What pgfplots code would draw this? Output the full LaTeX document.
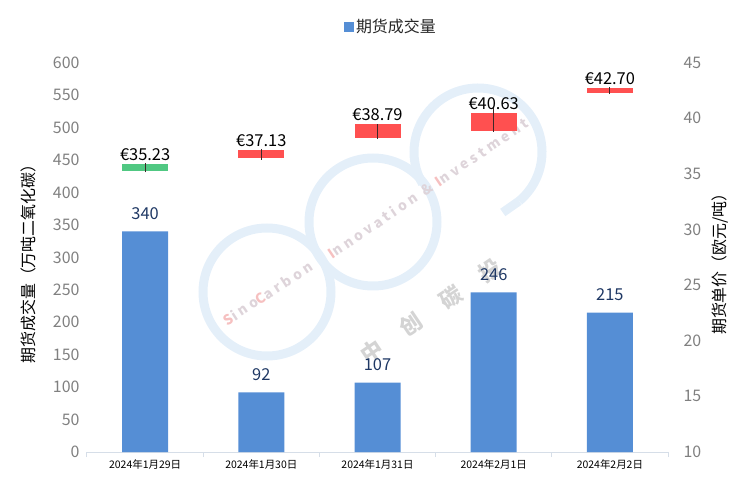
\documentclass[border=0pt]{standalone}
\usepackage{pgfplots}
\pgfplotsset{compat=1.18}
\usepackage{fontspec}
\setmainfont{Noto Sans CJK SC}
\newfontfamily\wmfont[LetterSpace=25]{Noto Sans CJK SC}
\newfontfamily\wmcjk[LetterSpace=118]{Noto Sans CJK SC}
\definecolor{barblue}{RGB}{85,142,213}
\definecolor{candlered}{RGB}{255,80,80}
\definecolor{candlegreen}{RGB}{80,200,130}
\definecolor{ticklab}{RGB}{128,128,128}
\definecolor{axisgray}{RGB}{214,222,232}
\definecolor{labelblue}{RGB}{31,56,100}
\definecolor{wick}{RGB}{60,40,40}
\definecolor{wmring}{RGB}{228,239,249}
\definecolor{wmtext}{RGB}{222,212,218}
\definecolor{wmred}{RGB}{246,192,192}
\definecolor{wmcjkc}{RGB}{212,212,212}
\begin{document}
\begin{tikzpicture}
\useasboundingbox (-87bp,-31bp) rectangle (657bp,452bp);
% watermark (decorative)
\draw[wmring, line width=9bp] (180bp,160bp) circle (64bp);
\draw[wmring, line width=9bp] (286bp,230bp) circle (64bp);
\draw[wmring, line width=9bp] ([shift={(-50:64bp)}]391bp,300bp) arc (-50:210:64bp);
\draw[wmring, line width=9bp] ([shift={(-50:64bp)}]391bp,300bp) -- ++(-145:20bp);
\node[rotate=33, font=\fontsize{14}{16}\selectfont\wmfont\bfseries, text=wmtext] at (181bp,159bp)
  {\textcolor{wmred}{S}ino\textcolor{wmred}{C}arbon};
\node[rotate=34, font=\fontsize{14}{16}\selectfont\wmfont\bfseries, text=wmtext] at (341bp,264bp)
  {\textcolor{wmred}{I}nnovation \& \textcolor{wmred}{I}nvestment};
\node[rotate=34, font=\fontsize{22}{24}\selectfont\wmcjk\bfseries, text=wmcjkc] at (344bp,141bp)
  {中创碳投};
\begin{axis}[
  at={(0,0)}, anchor=south west,
  width=581bp, height=389.3bp, scale only axis,
  xmin=-0.5, xmax=4.5, ymin=0, ymax=600,
  ytick={0,50,...,600},
  xtick={0,1,2,3,4},
  xticklabels={2024年1月29日,2024年1月30日,2024年1月31日,2024年2月1日,2024年2月2日},
  minor xtick={-0.5,0.5,1.5,2.5,3.5,4.5},
  axis x line*=bottom, axis y line*=left,
  y axis line style={draw=none},
  x axis line style={axisgray, line width=1bp},
  major tick length=0, minor tick length=5bp, tick align=outside,
  minor tick style={axisgray, line width=1bp},
  /pgf/number format/assume math mode=true,
  yticklabel style={font=\fontsize{16}{18}\selectfont, text=ticklab, xshift=-4bp},
  xticklabel style={font=\fontsize{10.5}{12}\selectfont, text=black, yshift=-4bp},
  ylabel={期货成交量（万吨二氧化碳）},
  ylabel style={at={(axis description cs:-0.1016,0.493)}, anchor=center, font=\fontsize{16}{18}\selectfont, text=black},
  legend style={at={(0.523,1.0925)}, anchor=center, draw=none, fill=none, font=\fontsize{16}{18}\selectfont, text=black!85},
  clip=false,
]
\addplot[ybar, bar width=46bp, fill=barblue, draw=none,
  nodes near coords,
  nodes near coords style={text=labelblue, font=\fontsize{16.5}{18}\selectfont, yshift=8.5bp},
  legend image code/.code={\fill[barblue] (0bp,-5bp) rectangle (10bp,5bp);}]
  coordinates {(0,340) (1,92) (2,107) (3,246) (4,215)};
\addlegendentry{期货成交量}
\end{axis}
\begin{axis}[
  at={(0,0)}, anchor=south west,
  width=581bp, height=389.3bp, scale only axis,
  xmin=-0.5, xmax=4.5, ymin=10, ymax=45,
  ytick={10,15,...,45},
  axis x line=none, axis y line*=right,
  y axis line style={draw=none},
  major tick length=0,
  /pgf/number format/assume math mode=true,
  yticklabel style={font=\fontsize{16}{18}\selectfont, text=ticklab, anchor=west, xshift=12bp},
  ylabel={期货单价（欧元/吨）},
  ylabel style={at={(axis description cs:1.0895,0.493)}, anchor=center, font=\fontsize{16}{18}\selectfont, text=black},
  clip=false,
]
\addplot[candlegreen, line width=46bp, unbounded coords=jump]
  coordinates {(0,35.30) (0,35.90)};
\addplot[candlered, line width=46bp, unbounded coords=jump]
  coordinates {(1,36.41) (1,37.16) (1.5,nan) (2,38.26) (2,39.50) (2.5,nan) (3,38.89) (3,40.46) (3.5,nan) (4,42.31) (4,42.71)};
\addplot[wick, line width=0.9bp, unbounded coords=jump]
  coordinates {(0,35.15) (0,35.96) (0.5,nan) (1,36.26) (1,37.22) (1.5,nan) (2,38.15) (2,39.50) (2.5,nan) (3,38.80) (3,41.05) (3.5,nan) (4,42.17) (4,42.85)};
\addplot[draw=none, nodes near coords, point meta=explicit symbolic,
  nodes near coords style={text=black, font=\fontsize{16.5}{18}\selectfont, yshift=0bp}]
  coordinates {(0,35.90)[€35.23] (1,37.16)[€37.13] (2,39.50)[€38.79] (3,40.46)[€40.63] (4,42.71)[€42.70]};
\end{axis}
\end{tikzpicture}
\end{document}
